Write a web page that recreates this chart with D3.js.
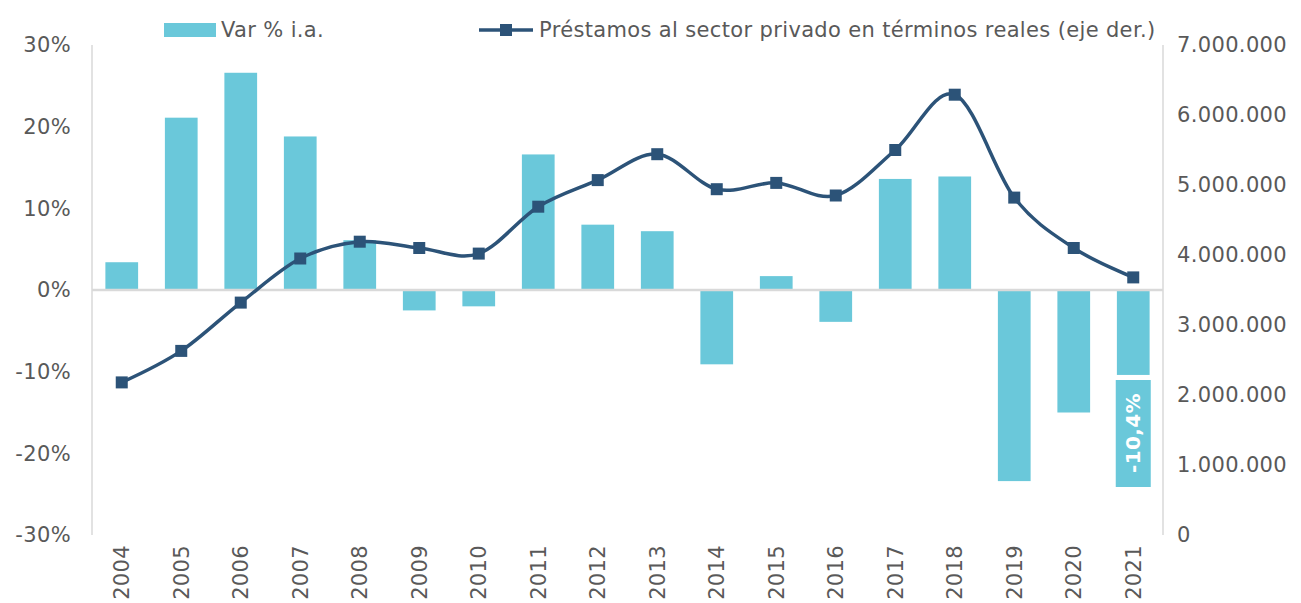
<!DOCTYPE html>
<html>
<head>
<meta charset="utf-8">
<script src="https://cdn.jsdelivr.net/npm/d3@7"></script>
<style>
  body { margin: 0; background: #fff; }
  svg text { font-family: "DejaVu Sans", Verdana, sans-serif; letter-spacing: 0.35px; }
</style>
</head>
<body>
<div id="chart"></div>
<script>
const years = ["2004","2005","2006","2007","2008","2009","2010","2011","2012","2013","2014","2015","2016","2017","2018","2019","2020","2021"];
// Var % i.a. (bars, left axis)
const varPct = [3.4, 21.1, 26.6, 18.8, 6.1, -2.5, -2.0, 16.6, 8.0, 7.2, -9.1, 1.7, -3.9, 13.6, 13.9, -23.4, -15.0, -10.4];
// Préstamos al sector privado en términos reales (line, right axis)
const prestamos = [2180000, 2630000, 3320000, 3950000, 4190000, 4100000, 4020000, 4690000, 5070000, 5440000, 4940000, 5030000, 4850000, 5500000, 6290000, 4820000, 4100000, 3680000];
const leftTicks = [-30, -20, -10, 0, 10, 20, 30];
const rightTicks = [0, 1000000, 2000000, 3000000, 4000000, 5000000, 6000000, 7000000];
const lastLabel = "-10,4%";

const width = 1301, height = 603;
const barColor = "#6AC8DA", lineColor = "#2C5378", textColor = "#595959", gridColor = "#D9D9D9";

const svg = d3.select("#chart").append("svg")
    .attr("width", width)
    .attr("height", height);

const x = d3.scaleBand()
    .domain(years)
    .range([92, 1163])
    .paddingInner(0.45)
    .paddingOuter(0.225);

const yL = d3.scaleLinear().domain([-30, 30]).range([535, 45]);
const yR = d3.scaleLinear().domain([0, 7000000]).range([535, 45]);

const esLocale = d3.formatLocale({ decimal: ",", thousands: ".", grouping: [3], currency: ["", ""] });
const fmtR = esLocale.format(",.0f");

// axis lines
svg.append("line")
    .attr("x1", 92).attr("x2", 92)
    .attr("y1", yL(30)).attr("y2", yL(-30))
    .attr("stroke", gridColor).attr("stroke-width", 1.5);
svg.append("line")
    .attr("x1", 1163).attr("x2", 1163)
    .attr("y1", yR(7000000)).attr("y2", yR(0))
    .attr("stroke", gridColor).attr("stroke-width", 1.5);

// left axis
const axL = svg.append("g")
    .attr("transform", "translate(71,0)")
    .call(d3.axisLeft(yL).tickValues(leftTicks).tickSize(0).tickPadding(0).tickFormat(d => d + "%"));
axL.select(".domain").remove();

// right axis
const axR = svg.append("g")
    .attr("transform", "translate(1177,0)")
    .call(d3.axisRight(yR).tickValues(rightTicks).tickSize(0).tickPadding(0).tickFormat(d => fmtR(d)));
axR.select(".domain").remove();

// x axis
const axX = svg.append("g")
    .attr("transform", `translate(0,${yL(-30)})`)
    .call(d3.axisBottom(x).tickSize(0).tickPadding(0));
axX.select(".domain").remove();
axX.selectAll("text")
    .attr("transform", "rotate(-90)")
    .attr("text-anchor", "end")
    .attr("x", -10)
    .attr("y", 0)
    .attr("dy", "0.35em");

svg.selectAll(".tick text")
    .attr("fill", textColor)
    .style("font-size", "21px");

// bars
svg.selectAll(".bar")
    .data(varPct)
    .enter()
    .append("rect")
    .attr("class", "bar")
    .attr("x", (d, i) => x(years[i]))
    .attr("width", x.bandwidth())
    .attr("y", d => yL(Math.max(0, d)))
    .attr("height", d => Math.abs(yL(d) - yL(0)))
    .attr("fill", barColor);

// zero line
svg.append("line")
    .attr("x1", 92).attr("x2", 1163)
    .attr("y1", yL(0)).attr("y2", yL(0))
    .attr("stroke", gridColor).attr("stroke-width", 2.5);

// data label for the last bar
const lastYear = years[years.length - 1];
const lbx = x(lastYear) + x.bandwidth() / 2;
svg.append("rect")
    .attr("x", lbx - 17.5)
    .attr("y", 380)
    .attr("width", 35)
    .attr("height", 107)
    .attr("fill", barColor);
svg.append("text")
    .attr("transform", `translate(${lbx},${433}) rotate(-90)`)
    .attr("text-anchor", "middle")
    .attr("dy", "0.36em")
    .attr("fill", "#fff")
    .attr("font-weight", "bold")
    .style("font-size", "20px")
    .text(lastLabel);

// line
const line = d3.line()
    .x((d, i) => x(years[i]) + x.bandwidth() / 2)
    .y(d => yR(d))
    .curve(d3.curveCatmullRom.alpha(0));

svg.append("path")
    .datum(prestamos)
    .attr("d", line)
    .attr("fill", "none")
    .attr("stroke", lineColor)
    .attr("stroke-width", 3.5);

const ms = 12;
svg.selectAll(".marker")
    .data(prestamos)
    .enter()
    .append("rect")
    .attr("class", "marker")
    .attr("x", (d, i) => x(years[i]) + x.bandwidth() / 2 - ms / 2)
    .attr("y", d => yR(d) - ms / 2)
    .attr("width", ms)
    .attr("height", ms)
    .attr("fill", lineColor);

// legend
const lg = svg.append("g");
lg.append("rect")
    .attr("x", 164).attr("y", 23)
    .attr("width", 52).attr("height", 14)
    .attr("fill", barColor);
lg.append("text")
    .attr("x", 221).attr("y", 30)
    .attr("dy", "0.35em")
    .attr("fill", textColor)
    .style("font-size", "21px")
    .text("Var % i.a.");
lg.append("line")
    .attr("x1", 479).attr("x2", 533)
    .attr("y1", 30).attr("y2", 30)
    .attr("stroke", lineColor).attr("stroke-width", 3.5);
lg.append("rect")
    .attr("x", 506 - 6).attr("y", 24)
    .attr("width", 12).attr("height", 12)
    .attr("fill", lineColor);
lg.append("text")
    .attr("x", 539).attr("y", 30)
    .attr("dy", "0.35em")
    .attr("fill", textColor)
    .style("font-size", "21px")
    .text("Préstamos al sector privado en términos reales (eje der.)");
</script>
</body>
</html>
